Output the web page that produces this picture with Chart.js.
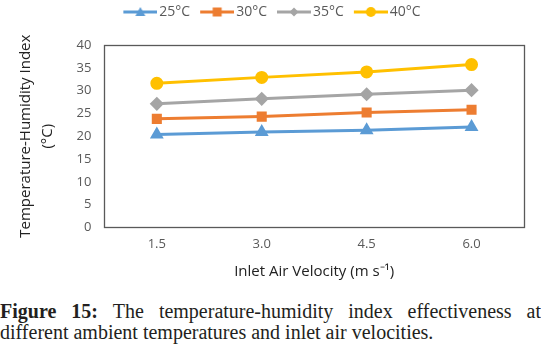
<!DOCTYPE html>
<html><head><meta charset="utf-8">
<script src="https://cdn.jsdelivr.net/npm/chart.js@4.4.0/dist/chart.umd.min.js"></script>
<style>
body{margin:0;background:#fff;width:541px;height:351px;overflow:hidden;}
#wrap{position:absolute;left:0;top:0;width:541px;height:283px;}
#cap{position:absolute;left:0;top:301px;width:541px;font-family:"Liberation Serif","DejaVu Serif",serif;font-size:20px;line-height:21px;color:#231f20;}
#cap .l1{white-space:nowrap;display:flex;justify-content:space-between;}
#cap b{font-weight:bold;}
</style></head>
<body>
<div id="wrap"><canvas id="c"></canvas></div>
<div id="cap"><div class="l1"><b>Figure</b><b>15:</b><span>The</span><span>temperature-humidity</span><span>index</span><span>effectiveness</span><span>at</span></div><div>different ambient temperatures and inlet air velocities.</div></div>
<script>
const categories = ["1.5","3.0","4.5","6.0"];
const seriesNames = ["25°C","30°C","35°C","40°C"];
const s25 = [20.4, 20.9, 21.3, 22.0];
const s30 = [23.8, 24.3, 25.2, 25.8];
const s35 = [27.1, 28.2, 29.2, 30.1];
const s40 = [31.6, 32.9, 34.1, 35.7];
const colors = ["#5B9BD5","#ED7D31","#A5A5A5","#FFC000"];
const styles = ["triangle","rect","rectRot","circle"];
const radii = [5,5,5,5];

function legendIcon(color, style){
  const cv=document.createElement('canvas'); cv.width=44; cv.height=14;
  const g=cv.getContext('2d');
  g.strokeStyle=color; g.lineWidth=3; g.beginPath(); g.moveTo(10,7); g.lineTo(44,7); g.stroke();
  g.fillStyle=color; g.beginPath();
  const c=27;
  if(style==='triangle'){g.moveTo(c,2);g.lineTo(c+5,11);g.lineTo(c-5,11);g.closePath();}
  else if(style==='rect'){g.rect(c-4.5,2.5,9,9);}
  else if(style==='rectRot'){g.moveTo(c,2.5);g.lineTo(c+4.5,7);g.lineTo(c,11.5);g.lineTo(c-4.5,7);g.closePath();}
  else {g.arc(c,7,5,0,Math.PI*2);}
  g.fill();
  return cv;
}
const icons = colors.map((c,i)=>legendIcon(c,styles[i]));

const frame = {id:'frame', afterDatasetsDraw(chart){
  const a=chart.chartArea, ctx=chart.ctx; ctx.save(); ctx.strokeStyle='#595959'; ctx.lineWidth=1.3;
  ctx.strokeRect(Math.round(a.left)+0.5, Math.round(a.top)+0.5, Math.round(a.right-a.left), Math.round(a.bottom-a.top)); ctx.restore();
}};
const legendSpace = {id:'legendSpace', beforeInit(chart){
  const lg = chart.legend; if(!lg) return;
  const fit = lg.fit; lg.fit = function(){ fit.call(this); this.height += 16; };
}};

const FONT='"Open Sans","Liberation Sans",sans-serif';
const data = [s25,s30,s35,s40];
new Chart(document.getElementById('c'), {
  type:'line',
  data:{labels:categories, datasets:data.map((d,i)=>({
    label:seriesNames[i], data:d, borderColor:colors[i], backgroundColor:colors[i],
    borderWidth:3, pointStyle:styles[i], pointRadius:radii[i], pointHoverRadius:radii[i], tension:0
  }))},
  options:{
    responsive:true, maintainAspectRatio:false, animation:false,
    layout:{padding:{left:15,right:17,top:0,bottom:2}},
    plugins:{
      tooltip:{enabled:false},
      legend:{position:'top', labels:{usePointStyle:true, pointStyleWidth:34, boxHeight:14, padding:5,
        color:'#595959', font:{family:FONT, size:14},
        generateLabels(chart){ return chart.data.datasets.map((ds,i)=>({text:ds.label, pointStyle:icons[i], fillStyle:colors[i], strokeStyle:colors[i], lineWidth:0, fontColor:'#595959', datasetIndex:i, hidden:false})); }
      }}
    },
    scales:{
      x:{type:'category', offset:true, grid:{display:false, drawTicks:false}, border:{display:false},
        ticks:{color:'#595959', padding:9, font:{family:FONT, size:13}},
        title:{display:true, text:'Inlet Air Velocity (m s⁻¹)', color:'#222', padding:{top:2,bottom:0}, font:{family:FONT, size:15}}},
      y:{min:0,max:40, grid:{display:false, drawTicks:false}, border:{display:false},
        ticks:{stepSize:5, color:'#595959', padding:13, font:{family:FONT, size:13}},
        title:{display:true, text:['Temperature-Humidity Index','(°C)'], color:'#222', padding:{top:0,bottom:5}, font:{family:FONT, size:15, lineHeight:1.45}}}
    }
  },
  plugins:[frame, legendSpace]
});
</script>
</body></html>
